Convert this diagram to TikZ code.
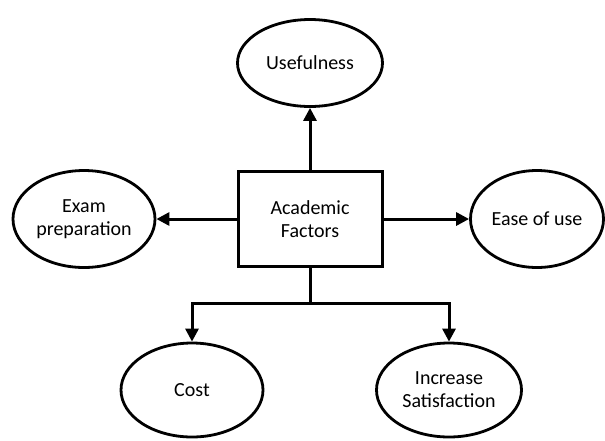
\documentclass[tikz,border=0pt]{standalone}
\usepackage{fontspec}
\setmainfont{Carlito}
\usetikzlibrary{shapes.geometric,arrows.meta}
\begin{document}
\begin{tikzpicture}[x=1pt,y=-1pt,
  factor/.style={ellipse,draw,line width=2.8pt,inner sep=0pt,align=center,
    font=\fontsize{20}{23}\selectfont},
  core/.style={rectangle,draw,line width=3pt,inner sep=0pt,align=center,
    minimum width=144pt,minimum height=95pt,font=\fontsize{20}{23}\selectfont},
  link/.style={line width=3pt,-{Triangle[length=13pt,width=13pt]}},
  trunk/.style={line width=3pt}]
  \useasboundingbox (0,0) rectangle (605,440);
  % central box
  \node[core] (acad) at (310,219) {Academic\\Factors};
  % surrounding factors
  \node[factor,minimum width=145pt,minimum height=87pt] (use) at (310,63) {Usefulness};
  \node[factor,minimum width=142pt,minimum height=97pt] (exam) at (84,219) {Exam\\preparation};
  \node[factor,minimum width=133pt,minimum height=97pt] (ease) at (537,219) {Ease of use};
  \node[factor,minimum width=142pt,minimum height=94pt] (cost) at (192,390) {Cost};
  \node[factor,minimum width=145pt,minimum height=94pt] (sat) at (449,390) {Increase\\Satisfaction};
  % branch point below the box
  \coordinate (split) at (310,303);
  % connectors
  \draw[link] (acad.north) -- (use.south);
  \draw[link] (acad.west) -- (exam.east);
  \draw[link] (acad.east) -- (ease.west);
  \draw[trunk] (acad.south) -- (split);
  \draw[link] (split) -| (cost.north);
  \draw[link] (split) -| (sat.north);
\end{tikzpicture}
\end{document}
